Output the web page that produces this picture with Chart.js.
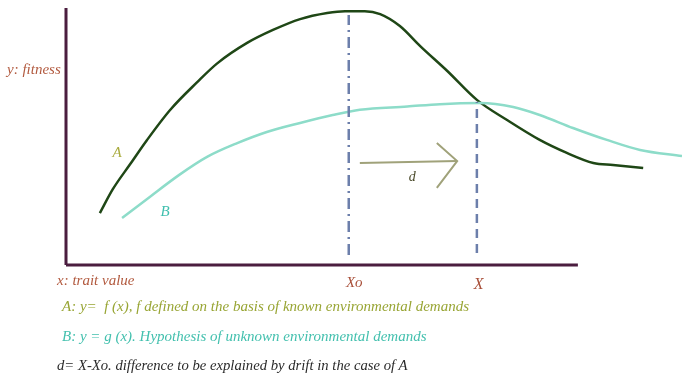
<!DOCTYPE html>
<html>
<head>
<meta charset="utf-8">
<script src="https://cdn.jsdelivr.net/npm/chart.js@4.4.1/dist/chart.umd.min.js"></script>
<style>
  html, body { margin: 0; padding: 0; background: #fff; }
  #wrap { position: relative; width: 682px; height: 377px; overflow: hidden; }
  .note {
    position: absolute;
    font-family: "Liberation Serif", serif;
    font-style: italic;
    font-size: 15px;
    white-space: nowrap;
    line-height: 1;
  }
</style>
</head>
<body>
<div id="wrap">
  <canvas id="chart" width="682" height="377"></canvas>
  <div class="note" style="left:62px; top:299px; color:#98a534;">A: y= &nbsp;f (x), f defined on the basis of known environmental demands</div>
  <div class="note" style="left:62px; top:329px; color:#43c0ae;">B: y = g (x). Hypothesis of unknown environmental demands</div>
  <div class="note" style="left:57px; top:358px; color:#2a2a2a; font-size:14.7px;">d= X-Xo. difference to be explained by drift in the case of A</div>
</div>
<script>
// curve A: fitness under known environmental demands
const traitA = [5.5, 7.6, 10.4, 13.1, 16.9, 21.3, 24.5, 29.4, 33.6, 38.0, 42.4, 45.3, 48.5, 51.0, 54.2, 57.5, 61.9, 66.7, 71.6, 76.9, 81.3, 85.6, 88.8, 93.7];
const fitnessA = [19.6, 28.6, 38.0, 47.0, 58.5, 69.0, 76.0, 83.8, 88.7, 92.8, 95.1, 95.8, 95.8, 94.7, 90.2, 82.6, 73.2, 62.3, 54.7, 47.2, 42.3, 38.5, 37.7, 36.6];

// curve B: hypothesis of unknown demands
const traitB = [9.1, 13.6, 18.5, 22.9, 27.8, 32.6, 38.0, 43.3, 47.7, 55.4, 60.7, 67.2, 72.6, 76.9, 82.3, 87.8, 93.2, 100];
const fitnessB = [17.7, 25.7, 34.2, 40.8, 46.0, 50.2, 53.6, 56.6, 58.6, 59.8, 60.7, 61.1, 59.6, 56.6, 51.7, 47.2, 43.4, 41.1];

// markers
const xoTrait = 45.9;
const xoRange = [3.8, 94.3];
const xTrait = 66.7;
const xRange = [4.5, 61.5];

// d arrow
const arrowShaftX = [47.7, 63.5];
const arrowShaftY = [38.5, 39.2];
const arrowHeadX = [60.2, 63.5, 60.2];
const arrowHeadY = [46.0, 39.2, 29.1];

// axes
const axisXEnd = 83.1;
const axisYEnd = 97;

const pts = (xs, ys) => xs.map((x, i) => ({ x: x, y: ys[i] }));

const labels = [
  { text: 'A', x: 8.3, y: 42.3, color: '#a9ab3e', size: 15 },
  { text: 'B', x: 16.1, y: 20.0, color: '#3fbfae', size: 15 },
  { text: 'd', x: 56.2, y: 33.2, color: '#4a4a2a', size: 14 },
  { text: 'Xo', x: 46.8, y: -6.8, color: '#a9503a', size: 15 },
  { text: 'X', x: 67.0, y: -7.5, color: '#a9503a', size: 16 }
];

const textPlugin = {
  id: 'textLabels',
  afterDatasetsDraw(chart) {
    const ctx = chart.ctx;
    const xs = chart.scales.x, ys = chart.scales.y;
    ctx.save();
    ctx.textAlign = 'center';
    ctx.textBaseline = 'middle';
    labels.forEach(l => {
      ctx.font = 'italic ' + l.size + 'px "Liberation Serif"';
      ctx.fillStyle = l.color;
      ctx.fillText(l.text, xs.getPixelForValue(l.x), ys.getPixelForValue(l.y));
    });
    ctx.textAlign = 'left';
    ctx.font = 'italic 15px "Liberation Serif"';
    ctx.fillStyle = '#b25a3f';
    ctx.fillText('y: fitness', xs.left - 59, ys.getPixelForValue(73.6));
    ctx.fillText('x: trait value', xs.left - 9, ys.getPixelForValue(-6.2));
    ctx.restore();
  }
};

new Chart(document.getElementById('chart'), {
  type: 'scatter',
  data: {
    datasets: [
      {
        data: [{ x: 0, y: 0 }, { x: 0, y: axisYEnd }],
        showLine: true, borderColor: '#4b1d3f', borderWidth: 3, pointRadius: 0, clip: false
      },
      {
        data: [{ x: 0, y: 0 }, { x: axisXEnd, y: 0 }],
        showLine: true, borderColor: '#4b1d3f', borderWidth: 3, pointRadius: 0, clip: false
      },
      {
        data: [{ x: xoTrait, y: xoRange[0] }, { x: xoTrait, y: xoRange[1] }],
        showLine: true, borderColor: '#6c7fab', borderWidth: 2.5, borderDash: [11, 5, 2, 5], pointRadius: 0
      },
      {
        data: [{ x: xTrait, y: xRange[0] }, { x: xTrait, y: xRange[1] }],
        showLine: true, borderColor: '#6c7fab', borderWidth: 2.5, borderDash: [9, 6], pointRadius: 0
      },
      {
        data: pts(traitB, fitnessB),
        showLine: true, borderColor: '#8ddcc9', borderWidth: 2.5, pointRadius: 0,
        cubicInterpolationMode: 'monotone', clip: false
      },
      {
        data: pts(traitA, fitnessA),
        showLine: true, borderColor: '#1f4716', borderWidth: 2.5, pointRadius: 0,
        cubicInterpolationMode: 'monotone'
      },
      {
        data: pts(arrowShaftX, arrowShaftY),
        showLine: true, borderColor: '#a0a27a', borderWidth: 2, pointRadius: 0
      },
      {
        data: pts(arrowHeadX, arrowHeadY),
        showLine: true, borderColor: '#a0a27a', borderWidth: 2, pointRadius: 0
      }
    ]
  },
  options: {
    responsive: false,
    animation: false,
    layout: { padding: { left: 66, top: 0, right: 0, bottom: 112 } },
    scales: {
      x: { type: 'linear', min: 0, max: 100, display: false },
      y: { type: 'linear', min: 0, max: 100, display: false }
    },
    plugins: {
      legend: { display: false },
      tooltip: { enabled: false }
    }
  },
  plugins: [textPlugin]
});
</script>
</body>
</html>
